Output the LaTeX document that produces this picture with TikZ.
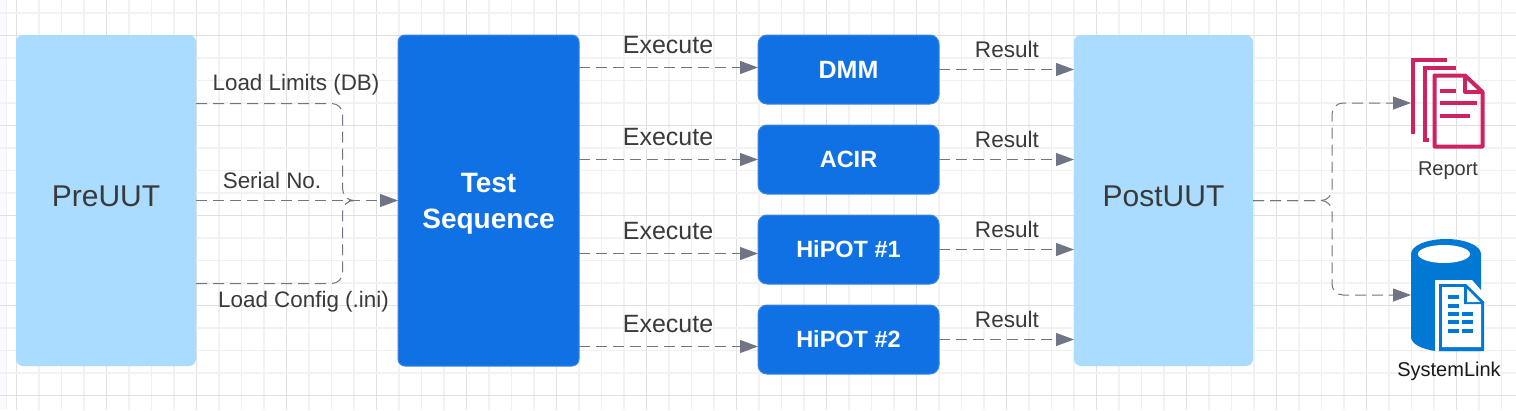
\documentclass[tikz,border=0pt]{standalone}
\usepackage{fontspec}
\setmainfont{Liberation Sans}
\usetikzlibrary{arrows.meta}
\definecolor{linegray}{HTML}{6F7584}
\definecolor{paleblue}{HTML}{AADCFF}
\definecolor{deepblue}{HTML}{1071E5}
\definecolor{edgeblue}{HTML}{3D86DE}
\definecolor{txt}{HTML}{3A3A3A}
\definecolor{pink}{HTML}{CF2361}
\definecolor{azure}{HTML}{0078D4}
\tikzset{
  x=1pt,y=-1pt,
  bigpale/.style={rectangle,rounded corners=7pt,fill=paleblue,minimum width=180pt,minimum height=331pt,inner sep=0pt,outer sep=0pt,text=txt,font=\fontsize{30}{34}\selectfont},
  seqbox/.style={rectangle,rounded corners=7pt,fill=deepblue,draw=edgeblue,line width=1pt,minimum width=181pt,minimum height=331pt,inner sep=0pt,outer sep=0pt,text=white,align=center,font=\fontsize{28}{36}\selectfont\bfseries},
  instr/.style={rectangle,rounded corners=9pt,fill=deepblue,draw=edgeblue,line width=1pt,minimum width=181pt,minimum height=69pt,inner sep=0pt,outer sep=0pt,text=white,font=\fontsize{25}{30}\selectfont\bfseries},
  instrs/.style={instr,font=\fontsize{23.5}{30}\selectfont\bfseries},
  flow/.style={draw=linegray,line width=1pt,dash pattern=on 11pt off 6pt,-{Triangle[length=18pt,width=13pt,fill=linegray]}},
  merge/.style={draw=linegray,line width=1pt,dash pattern=on 11pt off 6pt,rounded corners=11pt},
  lab/.style={inner sep=0pt,outer sep=0pt,text=txt},
  loadlab/.style={lab,font=\fontsize{22.4}{26}\selectfont},
  exelab/.style={lab,font=\fontsize{25}{30}\selectfont},
  reslab/.style={lab,font=\fontsize{22.6}{26}\selectfont},
  gridthick/.style={draw=black!5,line width=2pt},
  gridthin/.style={draw=black!6,line width=1pt},
  gridmajor/.style={draw=black!12,line width=1pt},
  sheet/.style={draw=pink,line width=4pt,line join=miter},
}
\begin{document}
\begin{tikzpicture}
\useasboundingbox (0,0) rectangle (1516,410);
\fill[white] (0,0) rectangle (1516,410);
\fill[blue!2] (0,0) rectangle (6,410);
% grid
\draw[gridthin] (6,0) -- (6,410);
\foreach \k in {0,...,66}{
  \pgfmathsetmacro{\gx}{16.5+22.5*\k}
  \pgfmathtruncatemacro{\m}{mod(\k,4)}
  \ifnum\m=0 \def\gs{gridmajor}\else\ifnum\m=2 \def\gs{gridthin}\else\def\gs{gridthick}\fi\fi
  \draw[\gs] (\gx,0) -- (\gx,410);
}
\foreach \k in {0,...,17}{
  \pgfmathsetmacro{\gy}{12.5+22.5*\k}
  \pgfmathtruncatemacro{\m}{mod(\k,4)}
  \ifnum\m=1 \def\gs{gridmajor}\else\ifnum\m=3 \def\gs{gridthin}\else\def\gs{gridthick}\fi\fi
  \draw[\gs] (0,\gy) -- (1516,\gy);
}
% main boxes
\node[bigpale] (pre) at (106,200.5) {\raisebox{8pt}{PreUUT}};
\node[seqbox] (seq) at (488.5,200.5) {\rule{0pt}{25.3pt}Test\\Sequence};
\node[instr] (dmm) at (848.5,69.5) {DMM};
\node[instrs] (acir) at (848.5,159.5) {ACIR};
\node[instrs] (hp1) at (848.5,249.5) {HiPOT \#1};
\node[instrs] (hp2) at (848.5,339.5) {HiPOT \#2};
\node[bigpale,minimum width=179pt] (post) at (1163.5,200.5) {\raisebox{8pt}{PostUUT}};
% labels
\node[loadlab] (l1) at (296,85) {Load Limits (DB)};
\node[loadlab] (l2) at (272,180.5) {Serial No.};
\node[loadlab] (l3) at (303.5,301.5) {Load Config (.ini)};
\node[exelab] (e1) at (668,45) {Execute};
\node[exelab] (e2) at (668,137) {Execute};
\node[exelab] (e3) at (668,231) {Execute};
\node[exelab] (e4) at (668,324) {Execute};
\node[reslab] (r1) at (1007,49) {Result};
\node[reslab] (r2) at (1007,139) {Result};
\node[reslab] (r3) at (1007,229) {Result};
\node[reslab] (r4) at (1007,319) {Result};
% left connectors
\coordinate (mergeL) at (352,200.5);
\draw[merge] (pre.east |- 0,103.5) -- (342.7,103.5) -- (342.7,200.5) -- (mergeL);
\draw[merge] (pre.east |- 0,283.5) -- (342.7,283.5) -- (342.7,200.5) -- (mergeL);
\draw[flow] (pre.east |- 0,200.5) -- (seq.west |- 0,200.5);
% execute
\draw[flow] (seq.east |- 0,67.5) -- (dmm.west |- 0,67.5);
\draw[flow] (seq.east |- 0,159.5) -- (acir.west |- 0,159.5);
\draw[flow] (seq.east |- 0,253.5) -- (hp1.west |- 0,253.5);
\draw[flow] (seq.east |- 0,346.5) -- (hp2.west |- 0,346.5);
% result
\draw[flow] (dmm.east |- 0,69.5) -- (post.west |- 0,69.5);
\draw[flow] (acir.east |- 0,159.5) -- (post.west |- 0,159.5);
\draw[flow] (hp1.east |- 0,249.5) -- (post.west |- 0,249.5);
\draw[flow] (hp2.east |- 0,339.5) -- (post.west |- 0,339.5);
% report icon
\draw[sheet] (1447,60) -- (1413,60) -- (1413,134);
\draw[sheet] (1456,68) -- (1424.5,68) -- (1424.5,140) -- (1429,140);
\draw[sheet,line join=round] (1465,75.5) -- (1434.5,75.5) -- (1434.5,146.5) -- (1482.5,146.5) -- (1482.5,92) -- cycle;
\draw[sheet,line join=round] (1465,75.5) -- (1465,92) -- (1482.5,92);
\draw[draw=pink,line width=4pt] (1440,90.7) -- (1456,90.7);
\draw[draw=pink,line width=4pt] (1440,103.3) -- (1477,103.3);
\draw[draw=pink,line width=4pt] (1440,116) -- (1470,116);
\coordinate (reportIn) at (1411,103);
\node[lab,font=\fontsize{20}{24}\selectfont] (report) at (1448,170.5) {Report};
% SystemLink icon
\fill[azure] (1411,254) arc[start angle=180,end angle=360,x radius=35,y radius=15]
  -- (1481,300) -- (1481,351) -- (1435,351)
  .. controls (1422,349) and (1411,344) .. (1411,337) -- cycle;
\fill[white] (1444,254) ellipse[x radius=26,y radius=9];
\fill[white] (1435,280) -- (1472,280) -- (1486,296) -- (1486,351) -- (1435,351) -- cycle;
\fill[azure] (1439,284) -- (1466,284) -- (1484,302) -- (1484,351) -- (1439,351) -- cycle;
\fill[white] (1442,287) -- (1465,287) -- (1481,303) -- (1481,347) -- (1442,347) -- cycle;
\fill[azure] (1464,285) -- (1466,285) -- (1484,302) -- (1484,304) -- (1464,304) -- cycle;
\fill[white] (1467,289) -- (1480,302) -- (1467,302) -- cycle;
\foreach \ry in {297,306,314,322,331}{
  \fill[azure] (1448,\ry-2) rectangle (1459,\ry+2);
}
\foreach \ry in {314,322,331}{
  \fill[azure] (1462,\ry-2) rectangle (1473,\ry+2);
}
\coordinate (sysIn) at (1411,295);
\node[inner sep=0pt,outer sep=0pt,text=black!90,font=\fontsize{20}{24}\selectfont] (sys) at (1449,371) {SystemLink};
% right connectors
\draw[merge,-{Triangle[length=18pt,width=13pt,fill=linegray]}] (post.east |- 0,200.5) -- (1332,200.5) -- (1332,103) -- (reportIn);
\draw[merge,-{Triangle[length=18pt,width=13pt,fill=linegray]}] (post.east |- 0,200.5) -- (1332,200.5) -- (1332,295) -- (sysIn);
\end{tikzpicture}
\end{document}
